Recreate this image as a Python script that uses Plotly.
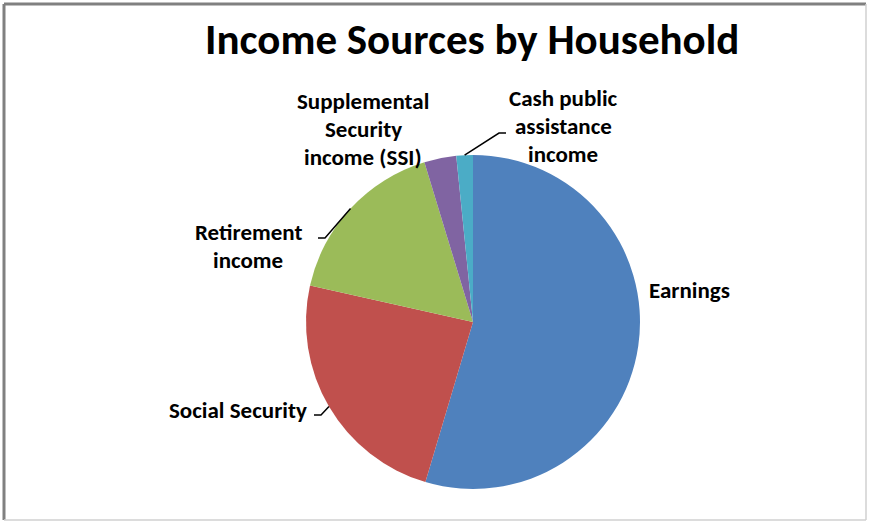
import math
import plotly.graph_objects as go

# Household income sources (share of households, %)
categories = ["Earnings", "Social Security", "Retirement income",
              "Supplemental Security income (SSI)", "Cash public assistance income"]
values = [54.6, 23.9, 16.8, 3.1, 1.6]
colors = ["#4F81BD", "#C0504D", "#9BBB59", "#8064A2", "#4BACC6"]

W, H = 869, 523
FONT = "Carlito, Calibri, Lato, sans-serif"
LABEL_SIZE = 23
LINE_GAP = 28

# Pie geometry in pixels
cx, cy, r = 473, 322, 167
dom_x = [(cx - r) / W, (cx + r) / W]
dom_y = [(H - cy - r) / H, (H - cy + r) / H]

fig = go.Figure()
fig.add_trace(go.Pie(
    labels=categories,
    values=values,
    sort=False,
    direction="clockwise",
    rotation=0,
    marker=dict(colors=colors, line=dict(width=0)),
    textinfo="none",
    hoverinfo="label+percent",
    showlegend=False,
    domain=dict(x=dom_x, y=dom_y),
))


def px(x, y):
    return x / W, 1 - y / H


def edge_point(i):
    """Point on the pie rim at the middle angle of slice i."""
    total = sum(values)
    start = sum(values[:i]) / total
    mid = (start + values[i] / total / 2) * 2 * math.pi
    return cx + r * math.sin(mid), cy - r * math.cos(mid)


# Label blocks: (lines, centre x, centre y) in pixels, plus optional leader-line start points
labels = [
    (["Earnings"], 689, 290, None),
    (["Social Security"], 238, 410, [(314, 415), (321, 415)]),
    (["Retirement", "income"], 248, 246, [(318, 238), (325, 238)]),
    (["Supplemental", "Security", "income (SSI)"], 363, 129, None),
    (["Cash public", "assistance", "income"], 563, 126, [(506, 133), (499, 133)]),
]

annotations = [dict(
    text="<b>Income Sources by Household</b>",
    x=472 / W, y=1 - 40 / H, xref="paper", yref="paper",
    xanchor="center", yanchor="middle", showarrow=False,
    font=dict(family=FONT, size=43, color="#000000"),
)]
shapes = []

for i, (lines, lx, ly, leader) in enumerate(labels):
    top = ly - LINE_GAP * (len(lines) - 1) / 2
    for k, line in enumerate(lines):
        ax, ay = px(lx, top + k * LINE_GAP)
        annotations.append(dict(
            text=f"<b>{line}</b>", x=ax, y=ay, xref="paper", yref="paper",
            xanchor="center", yanchor="middle", showarrow=False, align="center",
            font=dict(family=FONT, size=LABEL_SIZE, color="#000000"),
        ))
    if leader:
        pts = [px(*p) for p in leader] + [px(*edge_point(i))]
        path = "M " + " L ".join(f"{x:.5f},{y:.5f}" for x, y in pts)
        shapes.append(dict(type="path", path=path, xref="paper", yref="paper",
                           line=dict(color="#000000", width=1.5)))

# Chart frame: darker top/left edge, lighter bottom/right edge
for x0, y0, x1, y1, col, w in [
    (4, 4, 866, 4, "#808080", 3),
    (4, 4, 4, 520, "#808080", 3),
    (866, 4, 866, 520, "#d0d0d0", 1.5),
    (4, 520, 866, 520, "#d0d0d0", 1.5),
]:
    a, b = px(x0, y0)
    c, d = px(x1, y1)
    shapes.append(dict(type="line", x0=a, y0=b, x1=c, y1=d, xref="paper",
                       yref="paper", line=dict(color=col, width=w)))

fig.update_layout(
    width=W, height=H, autosize=False,
    margin=dict(l=0, r=0, t=0, b=0),
    paper_bgcolor="#ffffff", plot_bgcolor="#ffffff",
    annotations=annotations, shapes=shapes,
)

fig.write_html("out.html")
